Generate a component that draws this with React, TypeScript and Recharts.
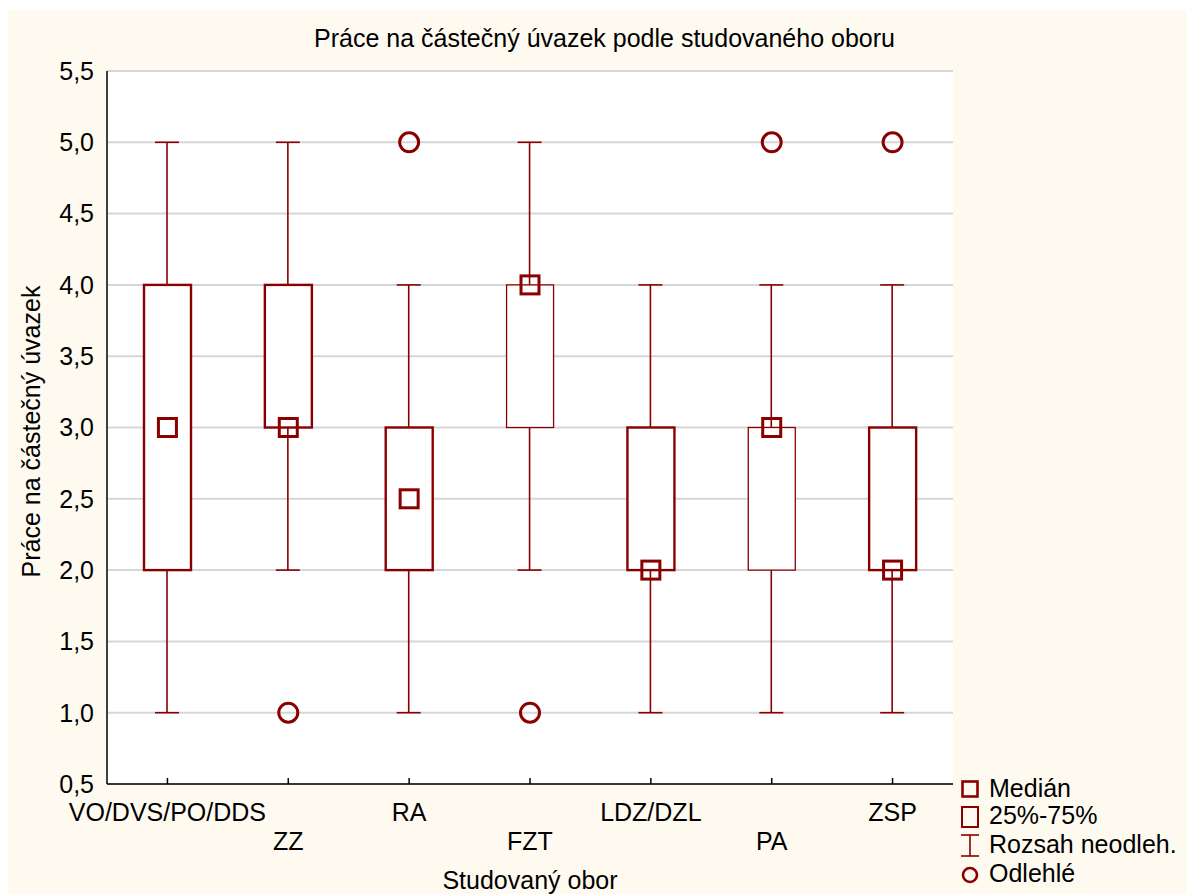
import React from "react";
import {
  ComposedChart, Bar, Scatter, XAxis, YAxis, CartesianGrid, Legend,
} from "recharts";

const categories = ["VO/DVS/PO/DDS", "ZZ", "RA", "FZT", "LDZ/DZL", "PA", "ZSP"];
const medians = [3, 3, 2.5, 4, 2, 3, 2];
const q1 = [2, 3, 2, 3, 2, 2, 2];
const q3 = [4, 4, 3, 4, 3, 3, 3];
const whiskerLow = [1, 2, 1, 2, 1, 1, 1];
const whiskerHigh = [5, 5, 4, 5, 4, 4, 4];
const outliers: (number | null)[] = [null, 1, 5, 1, null, 5, 5];
const yTicks = [0.5, 1, 1.5, 2, 2.5, 3, 3.5, 4, 4.5, 5, 5.5];
const legendLabels = ["Medián", "25%-75%", "Rozsah neodleh.", "Odlehlé"];

const data = categories.map((name, i) => ({
  name,
  median: medians[i],
  box: [q1[i], q3[i]],
  range: [whiskerLow[i], whiskerHigh[i]],
  outlier: outliers[i],
}));

const RED = "#8a0000";
const CREAM = "#fefaf0";
const FONT = '"Liberation Sans", Arial, sans-serif';
const FS = 25;
const X_TICK_MARGIN = 19;

const fmt = (v: number) => v.toFixed(1).replace(".", ",");
const empty = () => <g />;

function norm(y: number, h: number) {
  return h < 0 ? [y + h, -h] : [y, h];
}

function WhiskerShape(props: any) {
  const { x, width } = props;
  const [top, h] = norm(props.y, props.height);
  const cx = x + width / 2;
  return (
    <g stroke={RED} strokeWidth={1.6}>
      <line x1={cx} x2={cx} y1={top} y2={top + h} />
      <line x1={x} x2={x + width} y1={top} y2={top} />
      <line x1={x} x2={x + width} y1={top + h} y2={top + h} />
    </g>
  );
}

function BoxShape(props: any) {
  const { x, width, payload } = props;
  const [top, h] = norm(props.y, props.height);
  // FZT and PA are drawn with a thinner frame in the original
  const thin = payload.name === "FZT" || payload.name === "PA";
  return (
    <rect x={x} y={top} width={width} height={h} fill="#fff"
      stroke={RED} strokeWidth={thin ? 1.3 : 2.4} />
  );
}

function MedianShape({ cx, cy }: any) {
  return <rect x={cx - 9} y={cy - 9} width={18} height={18} fill="none" stroke={RED} strokeWidth={3} />;
}

function OutlierShape({ cx, cy, payload }: any) {
  if (payload == null || payload.outlier == null) return <g />;
  return <circle cx={cx} cy={cy} r={9.5} fill="none" stroke={RED} strokeWidth={3} />;
}

function BottomTick({ x, y, payload, index }: any) {
  const base = y - X_TICK_MARGIN;
  const lower = index % 2 === 1;
  return (
    <g>
      <line x1={x} x2={x} y1={base} y2={base - 6} stroke="#000" strokeWidth={1.5} />
      <text x={x} y={y + (lower ? 29 : 0)} dy="0.71em" textAnchor="middle"
        fontSize={FS} fill="#000" fontFamily={FONT}>
        {payload.value}
      </text>
    </g>
  );
}

function LegendContent() {
  // everything shifted 6px down so the first label's ascent stays inside the svg
  const rows = [27, 54, 83, 112];
  return (
    <svg width={229} height={124} style={{ display: "block", overflow: "visible" }}>
      <g transform="translate(0,6)">
        <rect x={4.5} y={5.5} width={15} height={15} fill="none" stroke={RED} strokeWidth={2.6} />
        <rect x={4} y={31} width={16} height={20} fill="none" stroke={RED} strokeWidth={2} />
        <g stroke={RED} strokeWidth={1.6}>
          <line x1={12} x2={12} y1={59} y2={80} />
          <line x1={3} x2={21} y1={59} y2={59} />
          <line x1={3} x2={21} y1={80} y2={80} />
        </g>
        <circle cx={12} cy={99} r={7} fill="none" stroke={RED} strokeWidth={2.6} />
      </g>
      {legendLabels.map((t, i) => (
        <text key={t} x={31} y={rows[i]} fontSize={FS} fill="#000" fontFamily={FONT}>{t}</text>
      ))}
    </svg>
  );
}

export default function App() {
  return (
    <div style={{ position: "relative", width: 1187, height: 894, background: "#fff", fontFamily: FONT }}>
      <style>{"body{margin:0}"}</style>
      <div style={{ position: "absolute", left: 8, top: 10, width: 1179, height: 884, background: CREAM, overflow: "hidden" }}>
        <ComposedChart width={1179} height={884} data={data}
          margin={{ top: 61, right: 234, bottom: 0, left: 0 }}>
          <CartesianGrid vertical={false} fill="#fff" stroke="#d6d6d6" strokeWidth={2} />
          <XAxis dataKey="name" height={110} tickLine={false} tickSize={0}
            tickMargin={X_TICK_MARGIN} tick={<BottomTick />} interval={0}
            axisLine={{ stroke: "#000", strokeWidth: 1.5 }}
            label={{ value: "Studovaný obor", position: "insideBottom", offset: 5, fontSize: FS, fill: "#000" }} />
          <XAxis xAxisId="box" dataKey="name" hide />
          <XAxis xAxisId="top" dataKey="name" orientation="top" mirror height={0}
            tick={empty} tickSize={6} interval={0}
            tickLine={{ stroke: "#000", strokeWidth: 1.5 }}
            axisLine={{ stroke: "#000", strokeWidth: 1.5 }} />
          <YAxis type="number" domain={[0.5, 5.5]} ticks={yTicks} allowDataOverflow
            width={99} tickLine={false} tickSize={0} tickMargin={13}
            tickFormatter={fmt} tick={{ fontSize: FS, fill: "#000" }}
            axisLine={{ stroke: "#000", strokeWidth: 1.5 }}
            label={{ value: "Práce na částečný úvazek", angle: -90, position: "center", dx: -26, dy: 4, fontSize: FS, fill: "#000" }} />
          <YAxis yAxisId="right" orientation="right" type="number" domain={[0.5, 5.5]}
            ticks={yTicks} allowDataOverflow mirror width={0} tick={empty} tickSize={6}
            tickLine={{ stroke: "#000", strokeWidth: 1.5 }}
            axisLine={{ stroke: "#000", strokeWidth: 1.5 }} />
          <Bar dataKey="range" barSize={24} shape={<WhiskerShape />} isAnimationActive={false} />
          <Bar xAxisId="box" dataKey="box" barSize={47} shape={<BoxShape />} isAnimationActive={false} />
          <Scatter dataKey="median" shape={<MedianShape />} isAnimationActive={false} />
          <Scatter dataKey="outlier" shape={<OutlierShape />} isAnimationActive={false} />
          <Legend layout="vertical" align="center" verticalAlign="middle"
            wrapperStyle={{ left: 950, top: 760, width: 229, height: 124 }}
            content={<LegendContent />} />
        </ComposedChart>
        <div style={{ position: "absolute", left: 0, top: 16, width: 1179, paddingLeft: 14, boxSizing: "border-box",
          textAlign: "center", fontSize: FS, lineHeight: "25px", color: "#000" }}>
          Práce na částečný úvazek podle studovaného oboru
        </div>
      </div>
    </div>
  );
}
